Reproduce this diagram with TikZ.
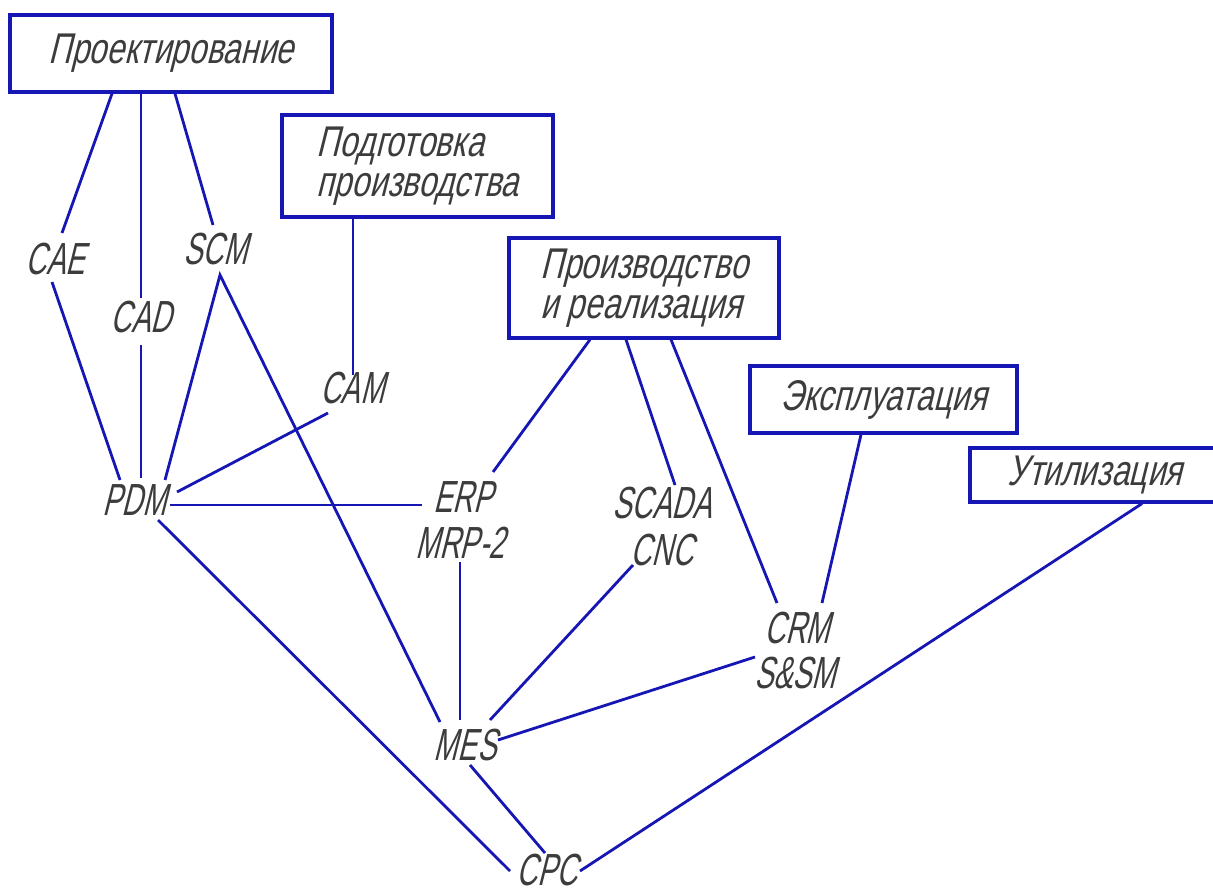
\documentclass[tikz,border=0pt]{standalone}
\usepackage{fontspec}
\newfontfamily\gostlab[FakeSlant=0.25,FakeStretch=0.64]{Liberation Sans}
\newfontfamily\gostbox[FakeSlant=0.25,FakeStretch=0.74]{Liberation Sans}
\definecolor{lineblue}{RGB}{22,22,180}
\definecolor{inkgray}{RGB}{60,60,60}

\tikzset{
  stage/.style={draw=lineblue, line width=3.2pt, inner sep=0pt, text=inkgray,
    align=left, font=\gostbox\fontsize{43}{40}\selectfont},
  sys/.style={inner sep=0pt, anchor=base, text=inkgray,
    font=\gostlab\fontsize{45}{45}\selectfont},
  link/.style={draw=lineblue, line width=2.8pt},
}

\begin{document}
\begin{tikzpicture}[x=1pt, y=-1pt]
  \useasboundingbox (0,0) rectangle (1213,893);
  \clip (0,0) rectangle (1213,893);

  % этапы
  \node[stage, minimum width=322, minimum height=77] (proekt) at (171,53.5) {Проектирование};
  \node[stage, minimum width=271, minimum height=102] (podgot) at (417.5,166) {Подготовка\\производства};
  \node[stage, minimum width=270, minimum height=100] (proizv) at (644,288) {Производство\\и реализация};
  \node[stage, minimum width=267, minimum height=67] (ekspl) at (883.5,399.5) {Эксплуатация};
  \node[stage, minimum width=250, minimum height=54] (util) at (1095,475) {Утилизация};

  % системы
  \node[sys] (cae) at (55,275) {CAE};
  \node[sys] (cad) at (141,333) {CAD};
  \node[sys] (scm) at (215,265) {SCM};
  \node[sys] (cam) at (352,403) {CAM};
  \node[sys] (pdm) at (134,515) {PDM};
  \node[sys] (erp) at (463,512) {ERP};
  \node[sys] (mrp) at (460,558) {MRP-2};
  \node[sys] (scada) at (662,518) {SCADA};
  \node[sys] (cnc) at (662,565) {CNC};
  \node[sys] (crm) at (797,643) {CRM};
  \node[sys] (ssm) at (795,688) {S\&SM};
  \node[sys] (mes) at (465,760) {MES};
  \node[sys] (cpc) at (547,885) {CPC};

  % связи
  \draw[link] ([shift={(-59,0)}]proekt.south) -- ([shift={(7,-42)}]cae.base);
  \draw[link] ([shift={(-3,7)}]cae.base) -- ([shift={(-14,-35)}]pdm.base);
  \draw[link] ([shift={(-30,0)}]proekt.south) -- ([shift={(0,-35)}]cad.base);
  \draw[link] ([shift={(0,12)}]cad.base) -- ([shift={(7,-37)}]pdm.base);
  \draw[link] ([shift={(4,0)}]proekt.south) -- ([shift={(-2,-40)}]scm.base);
  \draw[link] ([shift={(31,-35)}]pdm.base) -- ([shift={(5,10)}]scm.base) -- ([shift={(-25,-38)}]mes.base);
  \draw[link] ([shift={(-64.5,0)}]podgot.south) -- ([shift={(1,-28)}]cam.base);
  \draw[link] ([shift={(-24,10)}]cam.base) -- ([shift={(43,-23)}]pdm.base);
  \draw[link] ([shift={(36,-10)}]pdm.base) -- ([shift={(-41,-7)}]erp.base);
  \draw[link] ([shift={(-54,0)}]proizv.south) -- ([shift={(30,-40)}]erp.base);
  \draw[link] ([shift={(-18,0)}]proizv.south) -- ([shift={(13,-33)}]scada.base);
  \draw[link] ([shift={(27,0)}]proizv.south) -- ([shift={(-20,-40)}]crm.base);
  \draw[link] ([shift={(-22.5,0)}]ekspl.south) -- ([shift={(25,-40)}]crm.base);
  \draw[link] ([shift={(0,4)}]mrp.base) -- ([shift={(-5,-40)}]mes.base);
  \draw[link] ([shift={(-29,0)}]cnc.base) -- ([shift={(25,-40)}]mes.base);
  \draw[link] ([shift={(-40,-31)}]ssm.base) -- ([shift={(33,-20)}]mes.base);
  \draw[link] ([shift={(24,5)}]pdm.base) -- ([shift={(-37,-14)}]cpc.base);
  \draw[link] ([shift={(5,5)}]mes.base) -- ([shift={(-2,-32)}]cpc.base);
  \draw[link] ([shift={(47,0)}]util.south) -- ([shift={(33,-14)}]cpc.base);
\end{tikzpicture}
\end{document}
